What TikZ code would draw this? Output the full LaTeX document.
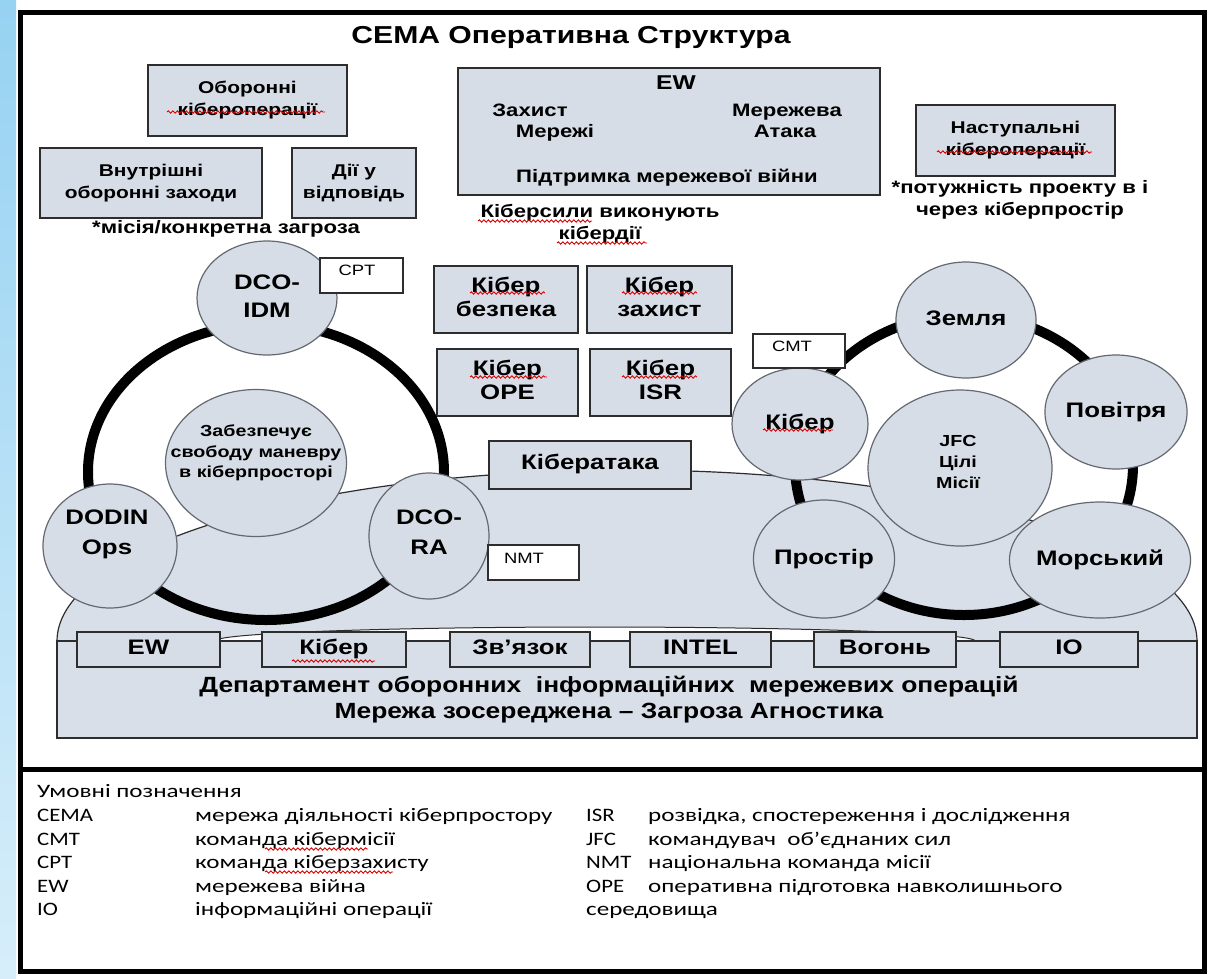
\documentclass[tikz,border=0pt]{standalone}
\usepackage{fontspec}
\setmainfont{Liberation Sans}
\newfontfamily\legendfont{Carlito}
\usetikzlibrary{shapes.geometric,decorations.pathmorphing}

\definecolor{boxfill}{RGB}{215,221,231}
\definecolor{domefill}{RGB}{217,223,233}
\definecolor{boxline}{RGB}{45,45,45}
\definecolor{circline}{RGB}{100,104,112}
\definecolor{sideblue}{RGB}{150,210,242}
\definecolor{sidelight}{RGB}{215,238,250}

% horizontally widened, centred text block
\newcommand\tx[2][1.23]{\scalebox{#1}[1]{\begin{tabular}{@{}c@{}}#2\end{tabular}}}
\newcommand\fs[2]{\fontsize{#1}{#2}\selectfont}

\tikzset{
  box/.style={draw=boxline, line width=1.8pt, fill=boxfill, inner sep=0pt,
              font=\bfseries\fs{21}{24}},
  tagbox/.style={draw=boxline, line width=1.4pt, fill=white, inner sep=0pt},
  tagtext/.style={inner sep=0pt, font=\fs{15}{18}},
  bubble/.style={ellipse, draw=circline, line width=1.2pt, fill=boxfill,
                 inner sep=0pt, font=\bfseries\fs{21}{28}},
  ring/.style={line width=10pt, draw=black},
  lbl/.style={inner sep=0pt, font=\bfseries\fs{18}{22}},
  squig/.style={draw=red!85!black, line width=0.9pt, decorate,
                decoration={snake, amplitude=1.2pt, segment length=4.5pt}},
  legend/.style={inner sep=0pt, anchor=base west, font=\legendfont\fs{19}{23}},
}

\begin{document}
\begin{tikzpicture}[x=1pt,y=-1pt]
\useasboundingbox (0,0) rectangle (1209,978);
\fill[white] (0,0) rectangle (1209,978);
\shade[top color=sideblue, bottom color=sidelight] (0,0) rectangle (16,978);

% outer frame and legend divider
\draw[line width=5pt] (20,12) rectangle (1204,971);
\draw[line width=5pt] (20,769) -- (1204,769);

% title
\node[inner sep=0pt, font=\bfseries\fs{24.5}{30}] (title) at (571,37) {\tx{CEMA Оперативна Структура}};

% ---------- upper blocks ----------
\node[box, minimum width=199, minimum height=71, font=\bfseries\fs{17}{22}] (obo) at (247.5,100.5) {\tx{Оборонні\\кібероперації}};
\node[box, minimum width=222, minimum height=70, font=\bfseries\fs{17}{22}] (vnu) at (151,183) {\tx{Внутрішні\\оборонні заходи}};
\node[box, minimum width=124, minimum height=70, font=\bfseries\fs{17}{22}] (dii) at (354,183) {\tx{Дії у\\відповідь}};
\node[lbl] (note1) at (226,229) {\tx{*місія/конкретна загроза}};

\node[box, minimum width=422, minimum height=127] (ewb) at (669,131.5) {};
\node[lbl, font=\bfseries\fs{20}{24}] (ewt) at (676,85) {\tx{EW}};
\node[lbl] (zah1) at (530,112) {\tx{Захист}};
\node[lbl] (zah2) at (555,133) {\tx{Мережі}};
\node[lbl] (ata1) at (787,112) {\tx{Мережева}};
\node[lbl] (ata2) at (785,133) {\tx{Атака}};
\node[lbl] (pid) at (667,178) {\tx{Підтримка мережевої війни}};
\node[lbl] (kfor) at (600,224) {\tx{Кіберсили виконують\\кібердії}};

\node[box, minimum width=199, minimum height=71, font=\bfseries\fs{17}{22}] (nas) at (1015.5,140.5) {\tx{Наступальні\\кібероперації}};
\node[lbl] (note2) at (1020,200) {\tx{*потужність проекту в і\\через кіберпростір}};

% ---------- cyber blocks ----------
\node[box, minimum width=144, minimum height=67] (kbz) at (506,299.5) {\tx{Кібер\\безпека}};
\node[box, minimum width=145, minimum height=67] (kza) at (659.5,299.5) {\tx{Кібер\\захист}};
\node[box, minimum width=141, minimum height=67] (kope) at (507.5,382.5) {\tx{Кібер\\OPE}};
\node[box, minimum width=141, minimum height=67] (kisr) at (660.5,382.5) {\tx{Кібер\\ISR}};

% ---------- platform ----------
\begin{scope}
  \clip (0,0) rectangle (1209,641);
  \filldraw[fill=domefill, draw=boxline, line width=1.2pt] (627,641) ellipse [x radius=570, y radius=171];
  \filldraw[fill=white, draw=boxline, line width=1pt] (595,641) ellipse [x radius=380, y radius=14];
\end{scope}
\node[draw=boxline, line width=2pt, fill=domefill, minimum width=1140, minimum height=97, inner sep=0pt] (dept) at (627,689.5) {};
\node[inner sep=0pt, font=\bfseries\fs{22}{26}] (deptt) at (609,700) {\tx[1.2]{Департамент оборонних\ \ інформаційних\ \ мережевих операцій\\Мережа зосереджена -- Загроза Агностика}};

\node[box, minimum width=202, minimum height=48] (katt) at (590,465) {\tx{Кібератака}};

% ---------- defensive cycle ----------
\draw[ring] (266,472) ellipse [x radius=178, y radius=148];
\node[bubble, minimum width=140, minimum height=114] (dcoidm) at (267,298) {\tx{DCO-\\IDM}};
\node[bubble, minimum width=181, minimum height=147] (free) at (256,463) {};
\node[inner sep=0pt, font=\bfseries\fs{16}{20.5}] (freet) at (256,453) {\tx{Забезпечує\\свободу маневру\\в кіберпросторі}};
\node[bubble, minimum width=134, minimum height=124] (dodin) at (110,546) {};
\node[inner sep=0pt, font=\bfseries\fs{21}{30}] (dodint) at (107,533) {\tx{DODIN\\Ops}};
\node[bubble, minimum width=120, minimum height=126] (dcora) at (429,536) {};
\node[inner sep=0pt, font=\bfseries\fs{21}{30}] (dcorat) at (429,533) {\tx{DCO-\\RA}};

% ---------- joint cycle ----------
\draw[ring] (964,465) ellipse [x radius=169, y radius=150];
\node[bubble, minimum width=140, minimum height=116] (zem) at (966,320) {\tx{Земля}};
\node[bubble, minimum width=136, minimum height=114] (pov) at (1116,412) {\tx{Повітря}};
\node[bubble, minimum width=136, minimum height=112] (kib) at (800,424) {\tx{Кібер}};
\node[bubble, minimum width=184, minimum height=156] (jfc) at (960,468) {};
\node[inner sep=0pt, font=\bfseries\fs{16}{21}] (jfct) at (958,463) {\tx{JFC\\Цілі\\Місії}};
\node[bubble, minimum width=138, minimum height=118] (pro) at (824,559) {\tx{Простір}};
\node[bubble, minimum width=136, minimum height=116] (mor) at (1100,560) {\tx{Морський}};

% ---------- team tags ----------
\node[tagbox, minimum width=83, minimum height=35] (cpt) at (361.5,275.5) {};
\node[tagtext] (cptt) at (357,272) {\tx{CPT}};
\node[tagbox, minimum width=91, minimum height=35] (nmt) at (533.5,562.5) {};
\node[tagtext] (nmtt) at (524,560) {\tx{NMT}};
\node[tagbox, minimum width=92, minimum height=34] (cmt) at (799,351) {};
\node[tagtext] (cmtt) at (792,348) {\tx{CMT}};

% ---------- bottom functions ----------
\node[box, minimum width=143, minimum height=35] (bew) at (148.5,649.5) {\tx{EW}};
\node[box, minimum width=144, minimum height=35] (bkib) at (334,649.5) {\tx{Кібер}};
\node[box, minimum width=140, minimum height=35] (bzv) at (520,649.5) {\tx{Зв'язок}};
\node[box, minimum width=141, minimum height=35] (bint) at (700.5,649.5) {\tx{INTEL}};
\node[box, minimum width=142, minimum height=35] (bvog) at (885,649.5) {\tx{Вогонь}};
\node[box, minimum width=138, minimum height=35] (bio) at (1069,649.5) {\tx{IO}};

% ---------- spelling marks ----------
\draw[squig] (167,112) -- (325,112);
\draw[squig] (937,152) -- (1092,152);
\draw[squig] (478,221) -- (592,221);
\draw[squig] (557,243) -- (647,243);
\draw[squig] (470,293) -- (545,293);
\draw[squig] (622,293) -- (697,293);
\draw[squig] (470,377) -- (547,377);
\draw[squig] (622,377) -- (697,377);
\draw[squig] (763,430) -- (833,430);
\draw[squig] (292,661) -- (375,661);

% ---------- legend ----------
\node[legend] (lg0) at (37,797) {\tx[1.32]{Умовні позначення}};
\node[legend] (lg1a) at (37,821) {\tx[1.2]{CEMA}};
\node[legend] (lg1b) at (195,821) {\tx[1.32]{мережа діяльності кіберпростору}};
\node[legend] (lg2a) at (37,845) {\tx[1.2]{CMT}};
\node[legend] (lg2b) at (195,845) {\tx[1.32]{команда кібермісії}};
\node[legend] (lg3a) at (37,868) {\tx[1.2]{CPT}};
\node[legend] (lg3b) at (195,868) {\tx[1.32]{команда кіберзахисту}};
\node[legend] (lg4a) at (37,892) {\tx[1.2]{EW}};
\node[legend] (lg4b) at (195,892) {\tx[1.32]{мережева війна}};
\node[legend] (lg5a) at (37,915) {\tx[1.2]{IO}};
\node[legend] (lg5b) at (195,915) {\tx[1.32]{інформаційні операції}};
\node[legend] (lg6a) at (586,821) {\tx[1.2]{ISR}};
\node[legend] (lg6b) at (648,821) {\tx[1.32]{розвідка, спостереження і дослідження}};
\node[legend] (lg7a) at (586,845) {\tx[1.2]{JFC}};
\node[legend] (lg7b) at (648,845) {\tx[1.32]{командувач\ \ об’єднаних сил}};
\node[legend] (lg8a) at (586,868) {\tx[1.2]{NMT}};
\node[legend] (lg8b) at (648,868) {\tx[1.32]{національна команда місії}};
\node[legend] (lg9a) at (586,892) {\tx[1.2]{OPE}};
\node[legend] (lg9b) at (648,892) {\tx[1.32]{оперативна підготовка навколишнього}};
\node[legend] (lg10) at (586,915) {\tx[1.32]{середовища}};
\draw[squig] (265,849) -- (368,849);
\draw[squig] (265,872) -- (393,872);
\end{tikzpicture}
\end{document}
